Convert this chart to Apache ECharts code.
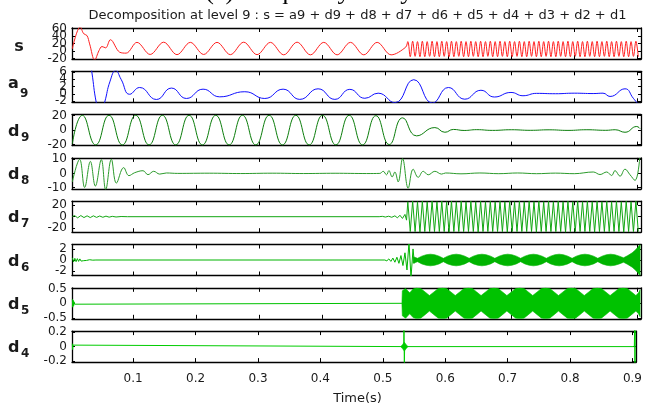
<!DOCTYPE html>
<html><head><meta charset="utf-8">
<script src="https://cdn.jsdelivr.net/npm/echarts@6/dist/echarts.min.js"></script>
<style>html,body{margin:0;padding:0;background:#fff}#c{width:645px;height:405px}</style>
</head><body><div id="c"></div>
<script>
// ---------- ticks & ranges ----------
const xTickVals = [0.1,0.2,0.3,0.4,0.5,0.6,0.7,0.8,0.9];
const timeRange = [0.002, 0.906];
const sTicks = [-20,0,20,40,60],  sRange = [-21,61];
const a9Ticks = [-2,0,2,4,6],     a9Range = [-2.3,6.2];
const d9Ticks = [-20,0,20],       d9Range = [-21.5,21.5];
const d8Ticks = [-10,0,10],       d8Range = [-11,11];
const d7Ticks = [-20,0,20],       d7Range = [-27,27];
const d6Ticks = [-2,0,2],         d6Range = [-2.8,2.8];
const d5Ticks = [-0.5,0,0.5],     d5Range = [-0.52,0.52];
const d4Ticks = [-0.2,0,0.2],     d4Range = [-0.21,0.21];
const panelMain = ['s','a','d','d','d','d','d','d'];
const panelSub  = ['','9','9','8','7','6','5','4'];

// ---------- signals ----------
const sSlow = [[0.0025,6],[0.0150,64],[0.0205,46],[0.0258,41],[0.0300,19],[0.0380,-24],[0.0448,1],[0.0496,12],[0.0555,8.5],[0.0630,30],[0.0777,-3],[0.0880,-5.5],[0.1052,23],[0.1262,-9],[0.1476,23.5],[0.1688,-9.5],[0.1900,23],[0.2112,-9],[0.2324,23],[0.2536,-9.5],[0.2748,23.5],[0.2960,-9.5],[0.3172,23],[0.3384,-10],[0.3596,23.5],[0.3808,-10],[0.4020,23],[0.4232,-10],[0.4444,23],[0.4656,-10],[0.4868,23],[0.5090,-10],[0.5320,10]];
const fastTimes = [0.5355,0.5394,0.5432,0.5471,0.5509,0.5548,0.5586,0.5625,0.5663,0.5702,0.5741,0.5779,0.5818,0.5856,0.5895,0.5933,0.5972,0.6010,0.6049,0.6087,0.6126,0.6165,0.6203,0.6242,0.6280,0.6319,0.6357,0.6396,0.6434,0.6473,0.6512,0.6550,0.6589,0.6627,0.6666,0.6704,0.6743,0.6781,0.6820,0.6858,0.6897,0.6936,0.6974,0.7013,0.7051,0.7090,0.7128,0.7167,0.7205,0.7244,0.7283,0.7321,0.7360,0.7398,0.7437,0.7475,0.7514,0.7552,0.7591,0.7629,0.7668,0.7707,0.7745,0.7784,0.7822,0.7861,0.7899,0.7938,0.7976,0.8015,0.8054,0.8092,0.8131,0.8169,0.8208,0.8246,0.8285,0.8323,0.8362,0.8400,0.8439,0.8478,0.8516,0.8555,0.8593,0.8632,0.8670,0.8709,0.8747,0.8786,0.8825,0.8863,0.8902,0.8940,0.8979,0.9017];
const sFastVals = [25,-15,26,-14,25,-15, 26,-15,25,-14,26,-15, 25,-15,26,-14,25,-15, 26,-15,25,-14,26,-15, 25,-15,26,-14,25,-15, 26,-15,25,-14,26,-15, 25,-15,26,-14,25,-15, 26,-15,25,-14,26,-15, 25,-15,26,-14,25,-15, 26,-15,25,-14,26,-15, 25,-15,26,-14,25,-15, 26,-15,25,-14,26,-15, 25,-15,26,-14,25,-15, 26,-15,25,-14,26,-15, 25,-15,26,-14,25,-15, 26,-15,25,-14,26,-15];
const a9Data = [[0.0025,16],[0.0140,22],[0.0260,14],[0.0335,6],[0.0407,-2.5],[0.0470,-6],[0.0539,-2.3],[0.0625,3.5],[0.0714,6.4],[0.0800,4.0],[0.0936,-0.1],[0.1095,1.76],[0.1361,-1.53],[0.1600,1.6],[0.1838,-1.25],[0.2102,1.3],[0.2367,-0.8],[0.2765,0.6],[0.3083,-1.25],[0.3374,1.3],[0.3639,-1.5],[0.3930,1.4],[0.4196,-1.5],[0.4434,1.25],[0.4672,-1.2],[0.4884,0.2],[0.5149,-2.4],[0.5450,3.9],[0.5746,-2.5],[0.6000,1.76],[0.6260,-1.45],[0.6517,1.0],[0.6730,-0.85],[0.6994,0.4],[0.7185,-0.5],[0.7400,0.15],[0.7700,0.05],[0.8000,0.2],[0.8300,0.1],[0.8456,0.2],[0.8568,-0.7],[0.8806,1.4],[0.8938,-1.2],[0.9045,-3.5]];
const d9Data = [[0.0025,-19],[0.0184,20.5],[0.0396,-20.5],[0.0608,20.5],[0.0820,-20.5],[0.1032,20.5],[0.1244,-20.5],[0.1456,20.5],[0.1668,-20.5],[0.1880,20.5],[0.2092,-20.5],[0.2304,20.5],[0.2516,-20.5],[0.2728,20.5],[0.2940,-20.5],[0.3152,20.5],[0.3364,-20.5],[0.3576,20.5],[0.3788,-20.5],[0.4000,20.5],[0.4212,-20.5],[0.4424,20.5],[0.4636,-20.5],[0.4848,20],[0.5060,-20],[0.5272,17],[0.5494,-8],[0.5785,3.5],[0.5944,-3],[0.6080,0.9],[0.6250,-0.5],[0.6450,0.6],[0.6700,-0.4],[0.7000,0.5],[0.7300,-0.3],[0.7600,0.4],[0.7900,-0.4],[0.8200,0.5],[0.8500,-0.3],[0.8650,0.5],[0.8806,-3],[0.8992,5],[0.9045,2]];
const d8Data = [[0.0025,-6],[0.0141,10],[0.0221,-10],[0.0312,8.5],[0.0391,-9],[0.0486,9.8],[0.0555,-11.5],[0.0645,10],[0.0725,-6.9],[0.0841,4.1],[0.0925,-1.6],[0.1016,0.5],[0.1148,1.9],[0.1227,-0.9],[0.1318,1.5],[0.1413,-0.5],[0.1520,0.3],[0.1700,0],[0.2200,0.15],[0.2700,-0.1],[0.3200,0.15],[0.3700,-0.1],[0.4200,0.1],[0.4700,-0.1],[0.4911,0],[0.4964,1.5],[0.5017,-1],[0.5054,2],[0.5107,-2.5],[0.5149,1],[0.5202,-6],[0.5272,10.5],[0.5361,-10.5],[0.5440,3],[0.5520,-2.8],[0.5600,1.5],[0.5679,-1],[0.5785,1.5],[0.5892,-0.5],[0.5955,0.3],[0.6200,-0.3],[0.6500,0.3],[0.6800,-0.2],[0.7100,0.3],[0.7400,-0.2],[0.7700,0.2],[0.8000,-0.2],[0.8302,1],[0.8409,-0.8],[0.8515,1],[0.8594,-1.5],[0.8647,2],[0.8727,-2],[0.8806,3],[0.8886,-1],[0.8965,-5],[0.9040,11]];
const d7Slow = [[0.0025,0],[0.0060,2],[0.0110,-2],[0.0160,2],[0.0210,-1.5],[0.0260,1.5],[0.0310,-1.5],[0.0360,1.5],[0.0410,-1.2],[0.0460,1.2],[0.0510,-1],[0.0560,1],[0.0610,-0.8],[0.0660,0.6],[0.0720,-0.5],[0.0800,0.3],[0.0900,0],[0.4900,0],[0.4950,0.6],[0.5000,-0.6],[0.5050,0.8],[0.5100,-1],[0.5150,1.5],[0.5190,-2],[0.5230,2.5],[0.5270,-3],[0.5310,4],[0.5335,-6]];
const d7FastVals = [26,-26,27,-26,26,-27, 27,-26,26,-26,27,-26, 26,-26,27,-26,26,-27, 27,-26,26,-26,27,-26, 26,-26,27,-26,26,-27, 27,-26,26,-26,27,-26, 26,-26,27,-26,26,-27, 27,-26,26,-26,27,-26, 26,-26,27,-26,26,-27, 27,-26,26,-26,27,-26, 26,-26,27,-26,26,-27, 27,-26,26,-26,27,-26, 26,-26,27,-26,26,-27, 27,-26,26,-26,27,-26, 26,-26,27,-26,26,-27, 27,-26,26,-26,27,-26];
const d6Line = [[0.0025,0.4],[0.0045,-0.35],[0.0065,0.3],[0.0085,-0.3],[0.0105,0.25],[0.0125,-0.25],[0.0145,0.2],[0.0165,-0.2],[0.0185,0.15],[0.0205,-0.12],[0.0225,0.1],[0.0250,-0.08],[0.0300,0.05],[0.0350,-0.03],[0.0400,0],[0.4990,0],[0.5022,-0.15],[0.5054,0.2],[0.5086,-0.25],[0.5118,0.35],[0.5150,-0.4],[0.5182,0.5],[0.5214,-0.6],[0.5246,0.8],[0.5278,-1.0],[0.5310,1.3],[0.5342,-1.8],[0.5374,3.2],[0.5406,-3.2],[0.5438,2.0],[0.5460,-0.6]];
const d6Band = [[0.5440,0.6],[0.5510,0.3],[0.5578,0.7],[0.5647,0.95],[0.5715,1.05],[0.5783,0.95],[0.5852,0.7],[0.5920,0.3],[0.5988,0.7],[0.6056,0.95],[0.6124,1.05],[0.6192,0.95],[0.6261,0.7],[0.6329,0.3],[0.6397,0.7],[0.6465,0.95],[0.6533,1.05],[0.6601,0.95],[0.6670,0.7],[0.6738,0.3],[0.6806,0.7],[0.6874,0.95],[0.6942,1.05],[0.7010,0.95],[0.7079,0.7],[0.7147,0.3],[0.7215,0.7],[0.7283,0.95],[0.7351,1.05],[0.7419,0.95],[0.7488,0.7],[0.7556,0.3],[0.7624,0.7],[0.7692,0.95],[0.7760,1.05],[0.7828,0.95],[0.7897,0.7],[0.7965,0.3],[0.8033,0.7],[0.8101,0.95],[0.8169,1.05],[0.8237,0.95],[0.8306,0.7],[0.8374,0.3],[0.8442,0.7],[0.8510,0.95],[0.8578,1.05],[0.8646,0.95],[0.8715,0.7],[0.8783,0.4],[0.8850,0.8],[0.8920,1.3],[0.8970,1.8],[0.9010,2.3],[0.9045,2.8]];
const d5Line = [[0.0025,0.14],[0.0032,-0.13],[0.0039,0.1],[0.0046,-0.08],[0.0053,0.05],[0.0060,-0.03],[0.0070,0],[0.5262,0]];
const d5Band = [[0.5262,0.02],[0.5268,0.42],[0.5320,0.50],[0.5385,0.35],[0.5440,0.48],[0.5494,0.52],[0.5560,0.50],[0.5630,0.38],[0.5699,0.26],[0.5770,0.38],[0.5840,0.50],[0.5904,0.52],[0.5970,0.50],[0.6040,0.38],[0.6109,0.26],[0.6180,0.38],[0.6250,0.50],[0.6314,0.52],[0.6380,0.50],[0.6450,0.38],[0.6519,0.26],[0.6590,0.38],[0.6660,0.50],[0.6724,0.52],[0.6790,0.50],[0.6860,0.38],[0.6929,0.26],[0.7000,0.38],[0.7070,0.50],[0.7134,0.52],[0.7200,0.50],[0.7270,0.38],[0.7339,0.26],[0.7410,0.38],[0.7480,0.50],[0.7544,0.52],[0.7610,0.50],[0.7680,0.38],[0.7749,0.26],[0.7820,0.38],[0.7890,0.50],[0.7954,0.52],[0.8020,0.50],[0.8090,0.38],[0.8159,0.26],[0.8230,0.38],[0.8300,0.50],[0.8364,0.52],[0.8430,0.50],[0.8500,0.38],[0.8569,0.26],[0.8640,0.38],[0.8710,0.50],[0.8774,0.52],[0.8840,0.50],[0.8910,0.38],[0.8979,0.26],[0.9020,0.35],[0.9045,0.45]];
const d4Line = [[0.0025,0.04],[0.0030,-0.04],[0.0036,0.02],[0.0042,0],[0.5336,0],[0.5339,0.25],[0.5345,-0.25],[0.5350,0],[0.9030,0],[0.9035,0.25],[0.9040,-0.25],[0.9045,0.25]];
const d4Band = [[0.5292,0.004],[0.5318,0.03],[0.5345,0.06],[0.5372,0.03],[0.5398,0.004]];

// ---------- build ----------
const panelTicks = [sTicks,a9Ticks,d9Ticks,d8Ticks,d7Ticks,d6Ticks,d5Ticks,d4Ticks];
const panelRanges = [sRange,a9Range,d9Range,d8Range,d7Range,d6Range,d5Range,d4Range];
const TOP0 = 28, STEP = 43.3, H = 31;
const FONT = 'DejaVu Sans';
const fmt = v => String(+(+v).toFixed(2));
const grids = [], xAxes = [], yAxes = [];
for (let i = 0; i < 8; i++) {
  grids.push({left: 72, right: 4, top: TOP0 + i*STEP, height: H});
  const axLine = {show: true, onZero: false, lineStyle: {color: '#000', width: 1.3}};
  ['bottom','top'].forEach((pos, k) => {
    xAxes.push({gridIndex: i, type: 'value', position: pos, min: timeRange[0], max: timeRange[1],
      axisLine: axLine,
      axisTick: {show: true, inside: true, length: 4, customValues: xTickVals, lineStyle: {color: '#000', width: 1}},
      axisLabel: {show: (i === 7 && k === 0), customValues: xTickVals, interval: 0, showMinLabel: true, showMaxLabel: true, hideOverlap: false,
        fontFamily: FONT, fontSize: 12, color: '#1a1a1a', margin: 11, formatter: fmt},
      splitLine: {show: false}});
  });
  ['left','right'].forEach((pos, k) => {
    yAxes.push({gridIndex: i, type: 'value', position: pos, min: panelRanges[i][0], max: panelRanges[i][1],
      axisLine: axLine,
      axisTick: {show: true, inside: true, length: 3, customValues: panelTicks[i], lineStyle: {color: '#000', width: 1}},
      axisLabel: {show: false},
      splitLine: {show: false}});
  });
}
function lineS(i, data, color, smooth) {
  return {type: 'line', xAxisIndex: 2*i, yAxisIndex: 2*i, data: data, showSymbol: false, symbol: 'none',
    smooth: smooth || false, clip: true, silent: true, lineStyle: {color: color, width: 1}};
}
function bandS(i, band, color) {
  return {type: 'custom', xAxisIndex: 2*i, yAxisIndex: 2*i, data: band, encode: {x: 0, y: 1}, clip: true, silent: true,
    renderItem: function (params, api) {
      if (params.dataIndex !== 0) return null;
      const up = band.map(r => api.coord([r[0], r[1]]));
      const dn = band.slice().reverse().map(r => api.coord([r[0], -r[1]]));
      return {type: 'polygon', shape: {points: up.concat(dn)}, style: {fill: color, stroke: color, lineWidth: 0.6}};
    }};
}
const sData = sSlow.concat(fastTimes.map((t, k) => [t, sFastVals[k]]));
const d7Data = d7Slow.concat(fastTimes.map((t, k) => [t, d7FastVals[k]]));
const series = [
  lineS(0, sData, '#ff2020', 0.35),
  lineS(1, a9Data, '#1010ff', 0.5),
  lineS(2, d9Data, '#0b7d0b', 0.5),
  lineS(3, d8Data, '#2b9a2b', 0.4),
  lineS(4, d7Data, '#12a612', false),
  lineS(5, d6Line, '#00b400', false),
  bandS(5, d6Band, '#00b400'),
  lineS(6, d5Line, '#00c200', false),
  bandS(6, d5Band, '#00c200'),
  lineS(7, d4Line, '#00cc00', false),
  bandS(7, d4Band, '#00cc00')
];
const graphics = [
  {type: 'text', x: 323, y: -8, style: {text: '(a) Frequency analysis', font: '26px "Liberation Serif"', fill: '#000', textAlign: 'center', textVerticalAlign: 'middle'}},
  {type: 'text', x: 357.5, y: 15.5, style: {text: 'Decomposition at level 9 : s = a9 + d9 + d8 + d7 + d6 + d5 + d4 + d3 + d2 + d1', font: '13px "DejaVu Sans"', fill: '#1a1a1a', textAlign: 'center', textVerticalAlign: 'middle'}},
  {type: 'text', x: 357.5, y: 399, style: {text: 'Time(s)', font: '13px "DejaVu Sans"', fill: '#1a1a1a', textAlign: 'center', textVerticalAlign: 'middle'}}
];
for (let i = 0; i < 8; i++) {
  const pc = TOP0 + i*STEP + H/2;
  if (panelSub[i] === '') {
    graphics.push({type: 'text', x: 19, y: pc + 3, style: {text: panelMain[i], font: 'bold 16px "DejaVu Sans"', fill: '#1a1a1a', textAlign: 'center', textVerticalAlign: 'middle'}});
  } else {
    const isA = panelMain[i] === 'a';
    graphics.push({type: 'text', x: 8, y: pc + (isA ? -3 : 1.5), style: {text: panelMain[i], font: 'bold 16px "DejaVu Sans"', fill: '#1a1a1a', textAlign: 'left', textVerticalAlign: 'middle'}});
    graphics.push({type: 'text', x: isA ? 20 : 21, y: pc + 7.5, style: {text: panelSub[i], font: 'bold 12px "DejaVu Sans"', fill: '#1a1a1a', textAlign: 'left', textVerticalAlign: 'middle'}});
  }
}
const chart = echarts.init(document.getElementById('c'), null, {renderer: 'canvas'});
chart.setOption({animation: false, backgroundColor: '#fff', grid: grids, xAxis: xAxes, yAxis: yAxes, series: series, graphic: graphics});
// y tick labels placed through the y axis scales
const yLabels = [];
for (let i = 0; i < 8; i++) {
  panelTicks[i].forEach(v => {
    const py = chart.convertToPixel({yAxisIndex: 2*i}, v);
    yLabels.push({type: 'text', x: 67, y: py, style: {text: fmt(v), font: '12px "DejaVu Sans"', fill: '#1a1a1a', textAlign: 'right', textVerticalAlign: 'middle'}});
  });
}
chart.setOption({graphic: graphics.concat(yLabels)});
</script></body></html>
